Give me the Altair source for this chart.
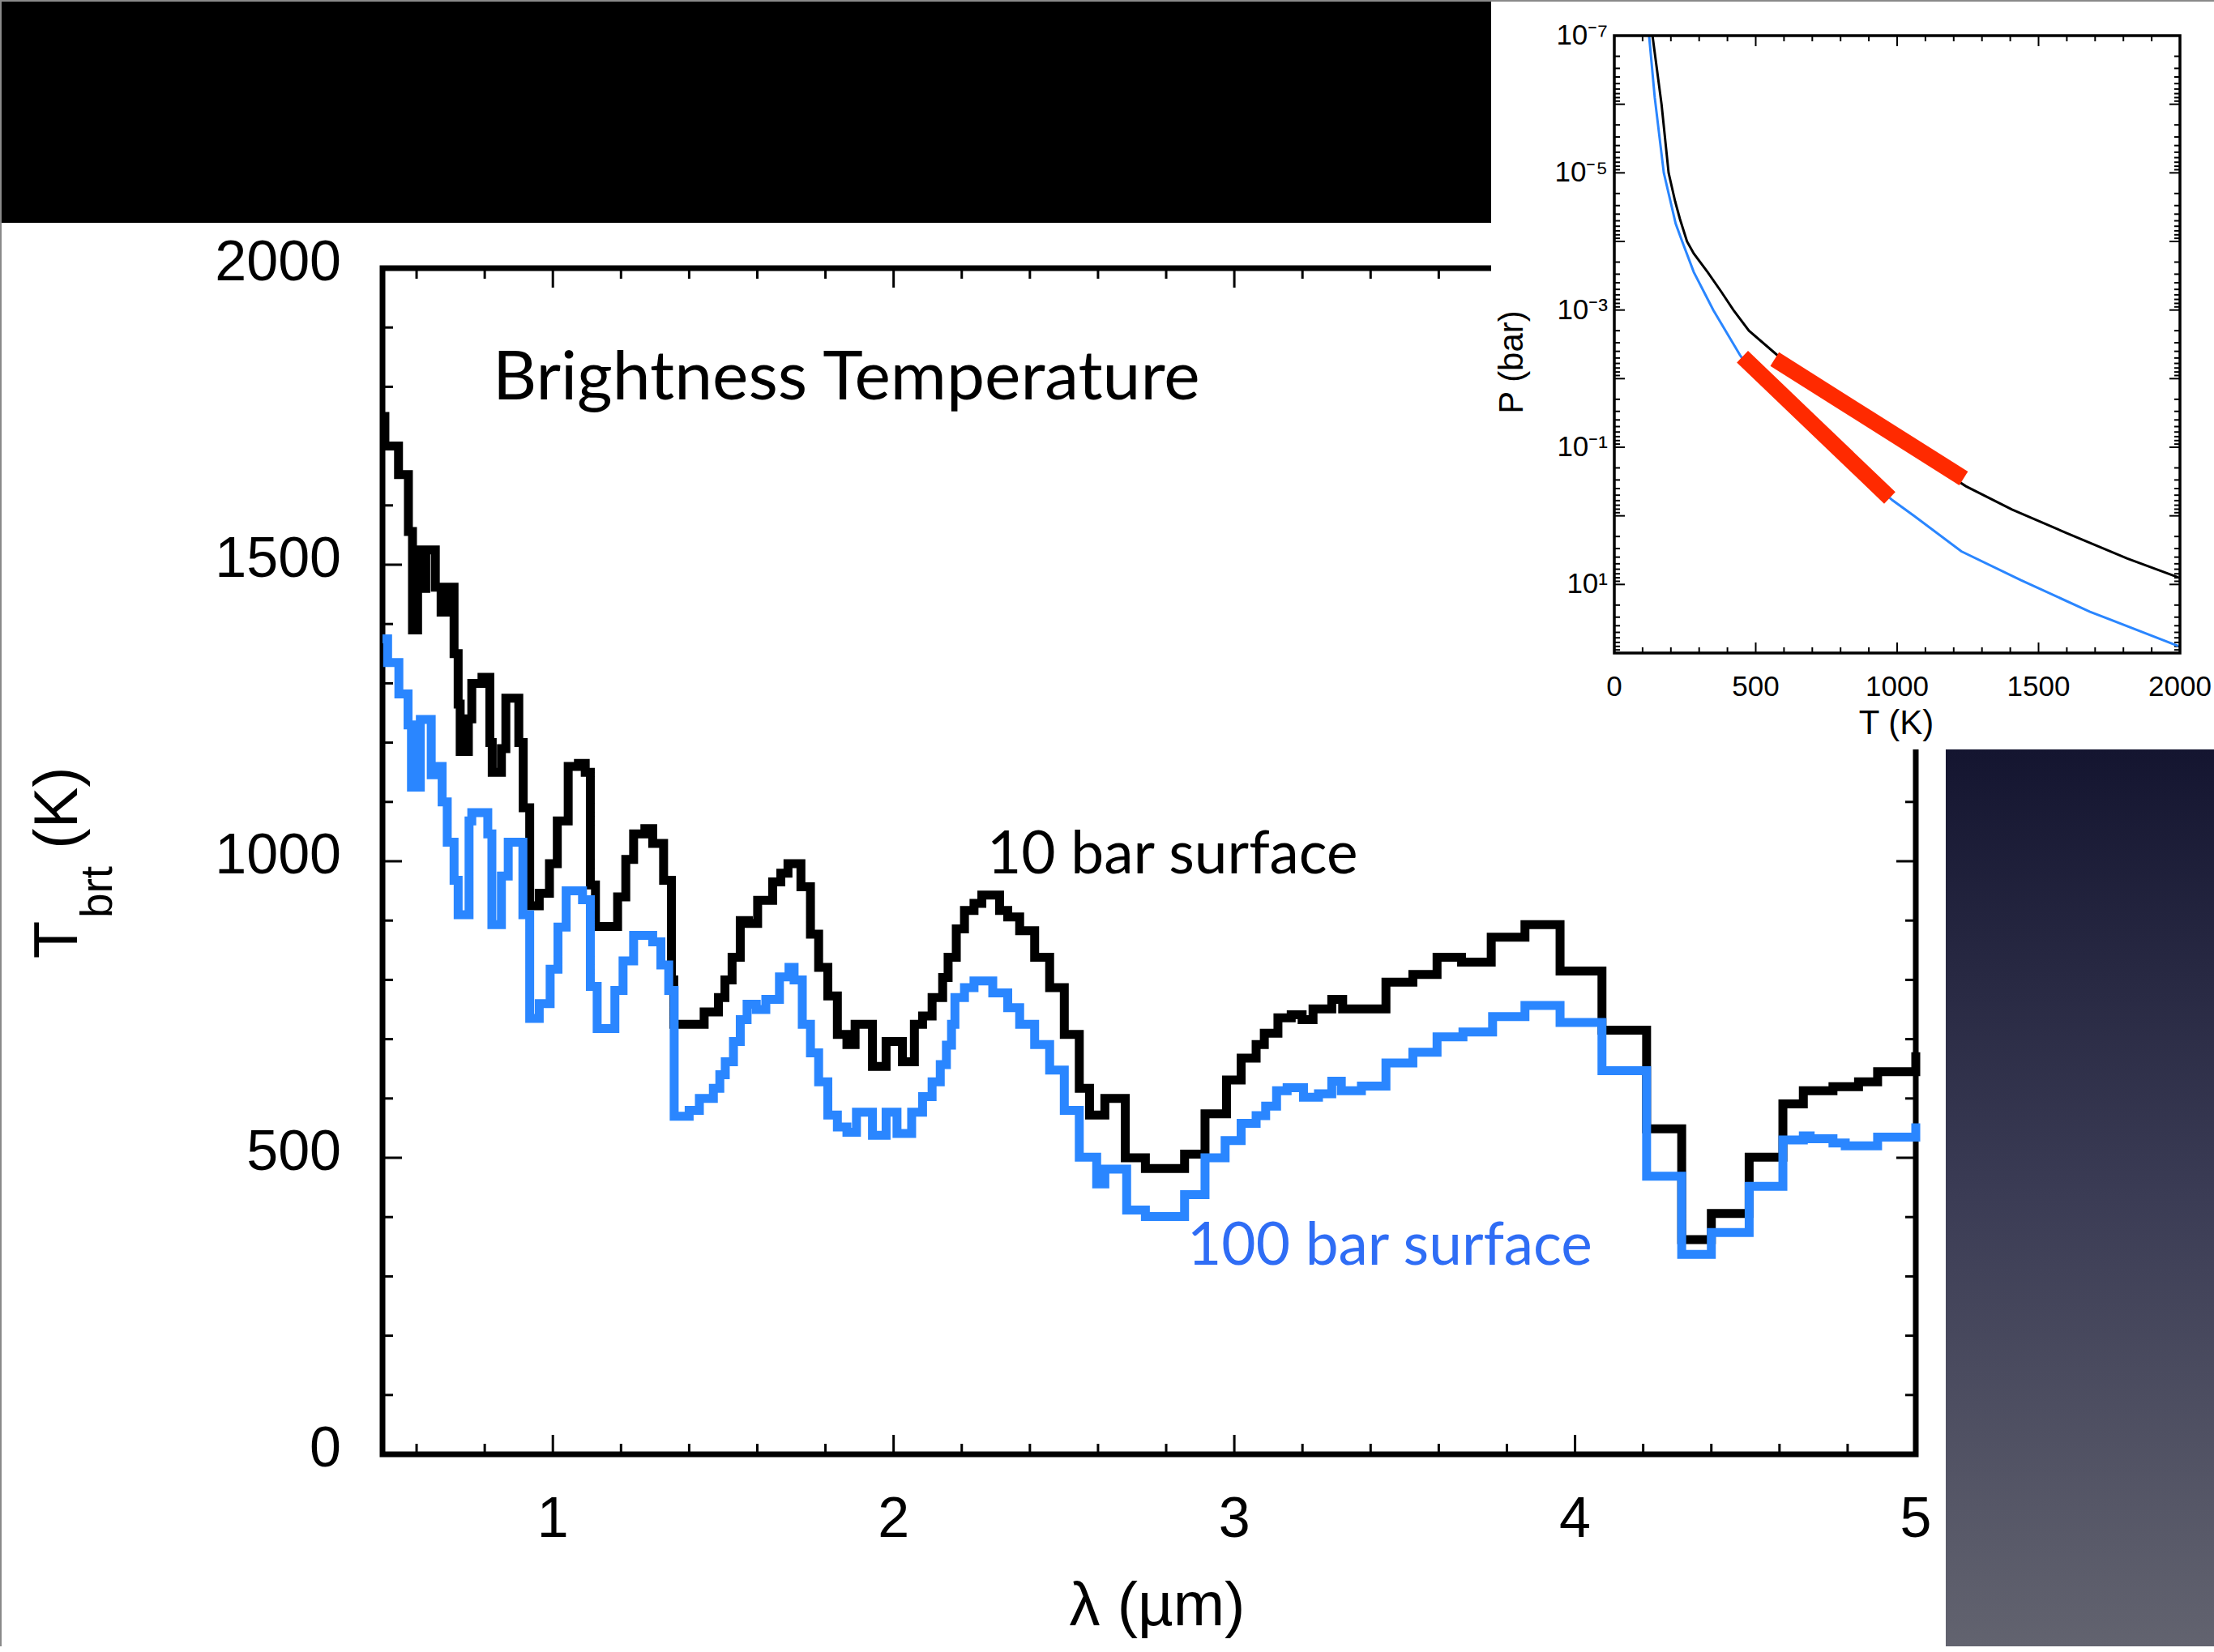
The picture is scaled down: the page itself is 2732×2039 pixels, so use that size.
import altair as alt
import pandas as pd

W, H = 2732, 2032

# ---------------- spectrum data: bin start wavelength (um) -> brightness temperature (K)
lam_10bar = [0.500, 0.507, 0.547, 0.576, 0.588, 0.603, 0.619, 0.627, 0.655, 0.672,
             0.690, 0.710, 0.722, 0.728, 0.752, 0.762, 0.792, 0.815, 0.822, 0.849,
             0.862, 0.900, 0.913, 0.932, 0.960, 0.990, 1.013, 1.045, 1.075, 1.095,
             1.110, 1.125, 1.190, 1.214, 1.237, 1.270, 1.293, 1.325, 1.348, 1.355,
             1.444, 1.486, 1.505, 1.526, 1.550, 1.574, 1.601, 1.645, 1.669, 1.690,
             1.728, 1.756, 1.780, 1.807, 1.835, 1.863, 1.887, 1.938, 1.978, 2.026,
             2.061, 2.085, 2.113, 2.144, 2.160, 2.184, 2.208, 2.236, 2.259, 2.311,
             2.335, 2.370, 2.414, 2.458, 2.501, 2.545, 2.575, 2.620, 2.680, 2.739,
             2.854, 2.914, 2.977, 3.020, 3.064, 3.088, 3.128, 3.167, 3.199, 3.231,
             3.286, 3.318, 3.445, 3.524, 3.595, 3.667, 3.754, 3.853, 3.956, 4.079,
             4.210, 4.313, 4.400, 4.511, 4.610, 4.670, 4.757, 4.832, 4.888, 5.000]
tbrt_10bar = [1750, 1700, 1652, 1556, 1390, 1525, 1460, 1525, 1462, 1420,
              1462, 1350, 1265, 1185, 1240, 1300, 1310, 1200, 1150, 1190,
              1275, 1200, 1090, 925, 946, 996, 1068, 1160, 1165, 1150,
              960, 890, 940, 1003, 1046, 1055, 1030, 968, 800, 725,
              746, 770, 800, 838, 900, 895, 934, 965, 980, 996,
              957, 877, 821, 773, 708, 691, 725, 654, 696, 662,
              725, 739, 770, 804, 838, 886, 917, 929, 943, 917,
              906, 883, 838, 787, 708, 617, 572, 600, 500, 482,
              506, 574, 631, 668, 691, 710, 736, 741, 733, 751,
              767, 751, 796, 809, 838, 830, 872, 893, 815, 715,
              549, 362, 406, 501, 591, 613, 620, 628, 645, 678]

lam_100bar = [0.500, 0.515, 0.548, 0.575, 0.585, 0.611, 0.643, 0.659, 0.675, 0.690,
              0.710, 0.722, 0.754, 0.762, 0.809, 0.821, 0.849, 0.869, 0.912, 0.932,
              0.960, 0.992, 1.015, 1.039, 1.087, 1.110, 1.130, 1.182, 1.206, 1.237,
              1.293, 1.317, 1.340, 1.356, 1.400, 1.430, 1.471, 1.490, 1.506, 1.530,
              1.550, 1.570, 1.597, 1.625, 1.665, 1.693, 1.708, 1.732, 1.756, 1.780,
              1.807, 1.835, 1.863, 1.891, 1.938, 1.978, 2.010, 2.053, 2.085, 2.113,
              2.137, 2.155, 2.170, 2.180, 2.208, 2.236, 2.291, 2.335, 2.370, 2.414,
              2.458, 2.501, 2.545, 2.596, 2.620, 2.684, 2.739, 2.854, 2.914, 2.973,
              3.020, 3.064, 3.092, 3.124, 3.155, 3.203, 3.247, 3.286, 3.314, 3.373,
              3.445, 3.524, 3.595, 3.671, 3.758, 3.853, 3.956, 4.079, 4.210, 4.313,
              4.400, 4.511, 4.610, 4.670, 4.690, 4.757, 4.793, 4.888, 5.000]
tbrt_100bar = [1375, 1335, 1282, 1230, 1125, 1239, 1146, 1160, 1100, 1032,
               968, 910, 1068, 1082, 1046, 893, 975, 1032, 910, 735,
               760, 818, 889, 950, 935, 789, 718, 782, 832, 875,
               864, 825, 782, 570, 580, 600, 617, 640, 662, 696,
               733, 759, 750, 767, 805, 821, 800, 725, 677, 628,
               572, 552, 543, 577, 538, 577, 541, 577, 603, 628,
               657, 690, 725, 770, 787, 798, 778, 753, 725, 691,
               648, 580, 501, 456, 481, 412, 401, 438, 500, 529,
               558, 571, 587, 613, 618, 602, 608, 629, 613, 621,
               660, 678, 704, 712, 738, 757, 728, 647, 469, 337,
               374, 452, 530, 537, 532, 525, 520, 535, 558]
lam_end = 5.0

lam_ticks_major = [1, 2, 3, 4, 5]
lam_tick_labels = ["1", "2", "3", "4", "5"]
lam_ticks_minor = [0.6, 0.8, 1.2, 1.4, 1.6, 1.8, 2.2, 2.4, 2.6, 2.8,
                   3.2, 3.4, 3.6, 3.8, 4.2, 4.4, 4.6, 4.8]
tbrt_ticks_major = [0, 500, 1000, 1500, 2000]
tbrt_tick_labels = ["0", "500", "1000", "1500", "2000"]
tbrt_ticks_minor = [100, 200, 300, 400, 600, 700, 800, 900, 1100, 1200,
                    1300, 1400, 1600, 1700, 1800, 1900]
main_xtitle = "λ (µm)"

# ---------------- inset: temperature-pressure profiles
tp_10bar_T = [135, 167, 192, 215, 232, 257, 281, 330, 378, 421, 476, 575, 900, 1243, 1406, 1602, 1814, 1994]
tp_10bar_P = [1e-7, 1e-6, 1e-5, 2.6e-5, 4.7e-5, 1e-4, 1.5e-4, 2.8e-4, 5.4e-4, 1e-3, 2e-3,
              4.5e-3, 4.5e-2, 0.37, 0.81, 1.8, 4.2, 7.9]
tp_100bar_T = [123, 143, 175, 217, 240, 281, 350, 444, 501, 710, 983, 1060, 1227, 1438, 1682, 1994]
tp_100bar_P = [1e-7, 8e-7, 1e-5, 5.5e-5, 1e-4, 2.8e-4, 1e-3, 4.5e-3, 1e-2, 5.6e-2,
               0.59, 1.0, 3.3, 8.7, 25, 79]
# photosphere ranges (start/end of each highlighted segment)
band_T1 = [567, 453]
band_P1 = [5.2e-3, 4.8e-3]
band_T2 = [1235, 974]
band_P2 = [0.285, 0.547]

T_ticks_major = [0, 500, 1000, 1500, 2000]
T_tick_labels = ["0", "500", "1000", "1500", "2000"]
T_ticks_minor = [100, 200, 300, 400, 600, 700, 800, 900, 1100, 1200,
                 1300, 1400, 1600, 1700, 1800, 1900]
P_decades = [1e-7, 1e-6, 1e-5, 1e-4, 1e-3, 1e-2, 1e-1, 1e0, 1e1, 1e2]
P_ticks_minor = [m * d for d in P_decades[:-1] for m in range(2, 10)]
P_label_values = [1e-7, 1e-5, 1e-3, 1e-1, 1e1]
P_label_texts = ["10⁻⁷", "10⁻⁵", "10⁻³", "10⁻¹", "10¹"]
inset_xtitle = "T (K)"
inset_ytitle = "P (bar)"

# ---------------- text
title_text = "Brightness Temperature"
label_10bar = "10 bar surface"
label_100bar = "100 bar surface"
ytitle_parts = ["T", "brt", "(K)"]

BLACK = "#000000"
BLUE = "#2a86ff"
BLUE_TEXT = "#2f6df5"
RED = "#ff2a00"
HELV = "Liberation Sans"
GILL = "Lato"

# ---------------- geometry: page pixels, converted to plot-area coordinates
PX_L, PX_R = 472, 2364          # main frame, left/right
PY_T, PY_B = 331, 1795          # main frame, top/bottom
PW, PH = PX_R - PX_L, PY_B - PY_T


def px(x):
    return x - PX_L


def py(y):
    return y - PY_T


IX_L, IX_R = 1992, 2690         # inset frame
IY_T, IY_B = 44, 806

x_main = alt.Scale(domain=[0.5, 5.0], nice=False, zero=False)
y_main = alt.Scale(domain=[0, 2000], nice=False, zero=False)
x_in = alt.Scale(domain=[0, 2000], range=[px(IX_L), px(IX_R)], nice=False, zero=False)
y_in = alt.Scale(type="log", domain=[1e-7, 1e2], range=[py(IY_T), py(IY_B)], nice=False)


def step_frame(lams, vals):
    return pd.DataFrame({"lam": list(lams) + [lam_end], "tbrt": list(vals) + [vals[-1]]})


def x_ticks(values, scale, at, length, direction, width):
    return alt.Chart(pd.DataFrame({"v": values})).mark_rule(
        color="black", strokeWidth=width).encode(
        x=alt.X("v:Q", scale=scale, axis=None),
        y=alt.value(at), y2=alt.value(at + direction * length))


def y_ticks(values, scale, at, length, direction, width):
    return alt.Chart(pd.DataFrame({"v": values})).mark_rule(
        color="black", strokeWidth=width).encode(
        y=alt.Y("v:Q", scale=scale, axis=None),
        x=alt.value(at), x2=alt.value(at + direction * length))


def x_labels(values, texts, scale, at, size, dy=0):
    return alt.Chart(pd.DataFrame({"v": values, "t": texts})).mark_text(
        font=HELV, fontSize=size, color="black", align="center", baseline="middle", dy=dy).encode(
        x=alt.X("v:Q", scale=scale, axis=None), y=alt.value(at), text="t:N")


def y_labels(values, texts, scale, at, size, dy=0):
    return alt.Chart(pd.DataFrame({"v": values, "t": texts})).mark_text(
        font=HELV, fontSize=size, color="black", align="right", baseline="middle", dy=dy).encode(
        y=alt.Y("v:Q", scale=scale, axis=None), x=alt.value(at), text="t:N")


one = pd.DataFrame({"k": [0]})

# ---------------- main panel
line_10 = alt.Chart(step_frame(lam_10bar, tbrt_10bar)).mark_line(
    interpolate="step-after", color=BLACK, strokeWidth=11, strokeJoin="miter").encode(
    x=alt.X("lam:Q", scale=x_main, axis=None),
    y=alt.Y("tbrt:Q", scale=y_main, axis=None))
line_100 = alt.Chart(step_frame(lam_100bar, tbrt_100bar)).mark_line(
    interpolate="step-after", color=BLUE, strokeWidth=11, strokeJoin="miter").encode(
    x=alt.X("lam:Q", scale=x_main, axis=None),
    y=alt.Y("tbrt:Q", scale=y_main, axis=None))

main_frame = alt.Chart(one).mark_rect(filled=False, stroke="black", strokeWidth=7).encode(
    x=alt.X(datum=0.5, scale=x_main, axis=None), x2=alt.X2(datum=5.0),
    y=alt.Y(datum=0, scale=y_main, axis=None), y2=alt.Y2(datum=2000))

main_ticks = [
    x_ticks(lam_ticks_major, x_main, PH, 24, -1, 3),
    x_ticks(lam_ticks_minor, x_main, PH, 13, -1, 3),
    x_ticks(lam_ticks_major, x_main, 0, 24, 1, 3),
    x_ticks(lam_ticks_minor, x_main, 0, 13, 1, 3),
    y_ticks(tbrt_ticks_major, y_main, 0, 24, 1, 3),
    y_ticks(tbrt_ticks_minor, y_main, 0, 13, 1, 3),
    y_ticks(tbrt_ticks_major, y_main, PW, 24, -1, 3),
    y_ticks(tbrt_ticks_minor, y_main, PW, 13, -1, 3),
]
main_labels = [
    x_labels(lam_ticks_major, lam_tick_labels, x_main, py(1876), 70),
    y_labels(tbrt_ticks_major, tbrt_tick_labels, y_main, px(421), 70, dy=-6),
]

main = alt.layer(*main_ticks, main_frame, line_10, line_100, *main_labels)

# ---------------- inset panel
tp_df = pd.concat([
    pd.DataFrame({"T": tp_10bar_T, "P": tp_10bar_P, "case": "10 bar", "i": range(len(tp_10bar_T))}),
    pd.DataFrame({"T": tp_100bar_T, "P": tp_100bar_P, "case": "100 bar", "i": range(len(tp_100bar_T))}),
])
tp_lines = alt.Chart(tp_df).mark_line(strokeWidth=3).encode(
    x=alt.X("T:Q", scale=x_in, axis=None),
    y=alt.Y("P:Q", scale=y_in, axis=None),
    color=alt.Color("case:N", scale=alt.Scale(domain=["10 bar", "100 bar"], range=[BLACK, BLUE]),
                    legend=None),
    order="i:Q")

bands = alt.Chart(pd.DataFrame({"T1": band_T1, "P1": band_P1, "T2": band_T2, "P2": band_P2})
                  ).mark_rule(color=RED, strokeWidth=20, strokeCap="butt").encode(
    x=alt.X("T1:Q", scale=x_in, axis=None), x2="T2:Q",
    y=alt.Y("P1:Q", scale=y_in, axis=None), y2="P2:Q")

inset_frame = alt.Chart(one).mark_rect(filled=False, stroke="black", strokeWidth=3.5).encode(
    x=alt.X(datum=0, scale=x_in, axis=None), x2=alt.X2(datum=2000),
    y=alt.Y(datum=1e-7, scale=y_in, axis=None), y2=alt.Y2(datum=1e2))

inset_ticks = [
    x_ticks(T_ticks_major, x_in, py(IY_B), 13, -1, 2),
    x_ticks(T_ticks_minor, x_in, py(IY_B), 7, -1, 2),
    x_ticks(T_ticks_major, x_in, py(IY_T), 13, 1, 2),
    x_ticks(T_ticks_minor, x_in, py(IY_T), 7, 1, 2),
    y_ticks(P_decades, y_in, px(IX_L), 13, 1, 2),
    y_ticks(P_ticks_minor, y_in, px(IX_L), 7, 1, 2),
    y_ticks(P_decades, y_in, px(IX_R), 13, -1, 2),
    y_ticks(P_ticks_minor, y_in, px(IX_R), 7, -1, 2),
]
inset_labels = [
    x_labels(T_ticks_major, T_tick_labels, x_in, py(848), 35),
    y_labels(P_label_values, P_label_texts, y_in, px(1984), 35),
]

inset = alt.layer(*inset_ticks, tp_lines, bands, inset_frame, *inset_labels)

# ---------------- slide furniture
def box(x1, x2, y1, y2, fill):
    return alt.Chart(one).mark_rect(fill=fill).encode(
        x=alt.value(px(x1)), x2=alt.value(px(x2)), y=alt.value(py(y1)), y2=alt.value(py(y2)))


inset_bg = box(1840, W, 0, 925, "white")
black_bar = box(0, 1840, 0, 275, "black")
side_panel = box(2401, W, 925, H, alt.Gradient(
    gradient="linear", x1=0, x2=0, y1=0, y2=1,
    stops=[alt.GradientStop(color="#141530", offset=0),
           alt.GradientStop(color="#3b3c55", offset=0.5),
           alt.GradientStop(color="#62636f", offset=1)]))
edge_left = box(0, 2, 0, H, "#8a8a8a")
edge_top = box(0, W, 0, 2, "#8a8a8a")


def label(text, x, y, size, color="black", font=GILL, angle=0, align="left",
          baseline="alphabetic"):
    return alt.Chart(pd.DataFrame({"t": [text]})).mark_text(
        font=font, fontSize=size, color=color, angle=angle, align=align,
        baseline=baseline).encode(x=alt.value(px(x)), y=alt.value(py(y)), text="t:N")


texts = [
    label(title_text, 608, 493, 84),
    label(label_10bar, 1218, 1078, 73),
    label(label_100bar, 1465, 1561, 73, color=BLUE_TEXT),
    label(main_xtitle, 1428, 1983, 76, font=HELV, align="center", baseline="middle"),
    label(ytitle_parts[0], 95, 1160, 76, font=HELV, angle=270, align="center"),
    label(ytitle_parts[1], 138, 1101, 55, font=HELV, angle=270, align="center"),
    label(ytitle_parts[2], 95, 997, 76, font=HELV, angle=270, align="center"),
    label(inset_xtitle, 2340, 893, 42, font=HELV, align="center", baseline="middle"),
    label(inset_ytitle, 1866, 447, 42, font=HELV, angle=270, align="center", baseline="middle"),
]

chart = alt.layer(main, inset_bg, inset, black_bar, side_panel, edge_left, edge_top,
                  *texts).resolve_scale(
    x="independent", y="independent"
).properties(
    width=PW, height=PH, background="white",
    padding={"left": PX_L, "top": PY_T, "right": W - PX_R, "bottom": H - PY_B},
    autosize=alt.AutoSizeParams(type="none"),
).configure_view(strokeWidth=0)

chart.save("out.html", embed_options={"renderer": "svg", "actions": False})
